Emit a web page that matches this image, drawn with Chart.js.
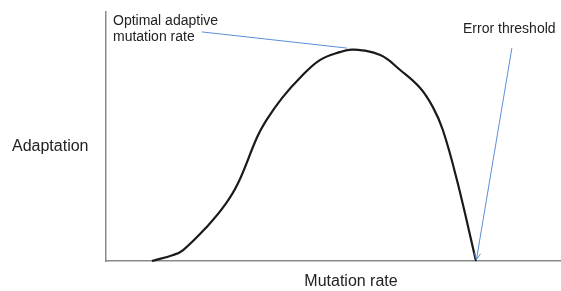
<!DOCTYPE html>
<html><head><meta charset="utf-8">
<script src="https://cdn.jsdelivr.net/npm/chart.js@4/dist/chart.umd.min.js"></script>
<style>html,body{margin:0;padding:0;background:#fff}canvas{display:block}</style>
</head><body>
<canvas id="c" width="561" height="291"></canvas>
<script>
// Curve: mutation rate (x) vs adaptation (y), both in arbitrary 0-100 units
const mutationRate = [10.1, 14.8, 17.0, 22.2, 26.2, 29.1, 33.3, 35.2, 38.8, 42.7, 47.1, 51.5, 54.4, 60.4, 64.8, 69.2, 72.0, 74.2, 77.3, 81.5];
const adaptation   = [0.0, 2.4, 4.4, 13.7, 22.5, 31.3, 49.8, 56.2, 65.5, 73.5, 80.7, 83.9, 84.9, 82.7, 76.7, 69.5, 61.8, 52.6, 32.5, 0.0];
// Annotation pointers (data units): [x, y]
const optimalPointerFrom = [21.1, 92.0];
const optimalPointerTo   = [53.1, 85.5];
const thresholdPointerFrom = [89.4, 85.5];
const thresholdPointerTo   = [81.6, 0.6];
const optimalLabel = ["Optimal adaptive", "mutation rate"];
const thresholdLabel = "Error threshold";
const xTitle = "Mutation rate";
const yTitle = "Adaptation";

const FONT_NOTE = '14px "Liberation Sans", Arial, sans-serif';
const FONT_TITLE = '16px "Liberation Sans", Arial, sans-serif';
const TEXT = '#222';
const BLUE = '#5b8ed6';

const overlay = {
  id: 'overlay',
  afterDraw(chart) {
    const ctx = chart.ctx, xs = chart.scales.x, ys = chart.scales.y;
    const P = p => [xs.getPixelForValue(p[0]), ys.getPixelForValue(p[1])];
    ctx.save();
    ctx.strokeStyle = BLUE; ctx.lineWidth = 1;
    let a = P(optimalPointerFrom), b = P(optimalPointerTo);
    ctx.beginPath(); ctx.moveTo(a[0], a[1]); ctx.lineTo(b[0], b[1]); ctx.stroke();
    a = P(thresholdPointerFrom); b = P(thresholdPointerTo);
    ctx.beginPath(); ctx.moveTo(a[0], a[1]); ctx.lineTo(b[0], b[1]); ctx.stroke();
    const ang = Math.atan2(b[1]-a[1], b[0]-a[0]);
    const L = 7, w = 0.45;
    ctx.beginPath();
    ctx.moveTo(b[0] - L*Math.cos(ang - w), b[1] - L*Math.sin(ang - w));
    ctx.lineTo(b[0], b[1]);
    ctx.lineTo(b[0] - L*Math.cos(ang + w), b[1] - L*Math.sin(ang + w));
    ctx.stroke();
    ctx.fillStyle = TEXT; ctx.textBaseline = 'alphabetic';
    ctx.textAlign = 'left';
    ctx.font = FONT_NOTE;
    ctx.fillText(optimalLabel[0], 113, 25);
    ctx.fillText(optimalLabel[1], 113, 41);
    ctx.fillText(thresholdLabel, 463, 33);
    ctx.font = FONT_TITLE;
    ctx.fillText(yTitle, 12, 151);
    ctx.textAlign = 'center';
    ctx.fillText(xTitle, 351, 286);
    ctx.restore();
  }
};

new Chart(document.getElementById('c'), {
  type: 'line',
  data: {
    datasets: [{
      data: mutationRate.map((x, i) => ({x, y: adaptation[i]})),
      borderColor: '#1a1a1a', borderWidth: 2.2, pointRadius: 0,
      tension: 0.4, fill: false, clip: false
    }]
  },
  options: {
    responsive: false, animation: false, devicePixelRatio: 1,
    layout: { padding: { left: 106, right: 1, top: 12, bottom: 30 } },
    plugins: { legend: { display: false }, tooltip: { enabled: false } },
    scales: {
      x: { type: 'linear', min: 0, max: 100, ticks: { display: false },
           grid: { display: false }, border: { display: true, color: '#8a8a8a', width: 1.5 },
           afterFit: s => { s.height = 0; } },
      y: { type: 'linear', min: 0, max: 100, ticks: { display: false },
           grid: { display: false }, border: { display: true, color: '#8a8a8a', width: 1.5 },
           afterFit: s => { s.width = 0; } }
    }
  },
  plugins: [overlay]
});
</script>
</body></html>
